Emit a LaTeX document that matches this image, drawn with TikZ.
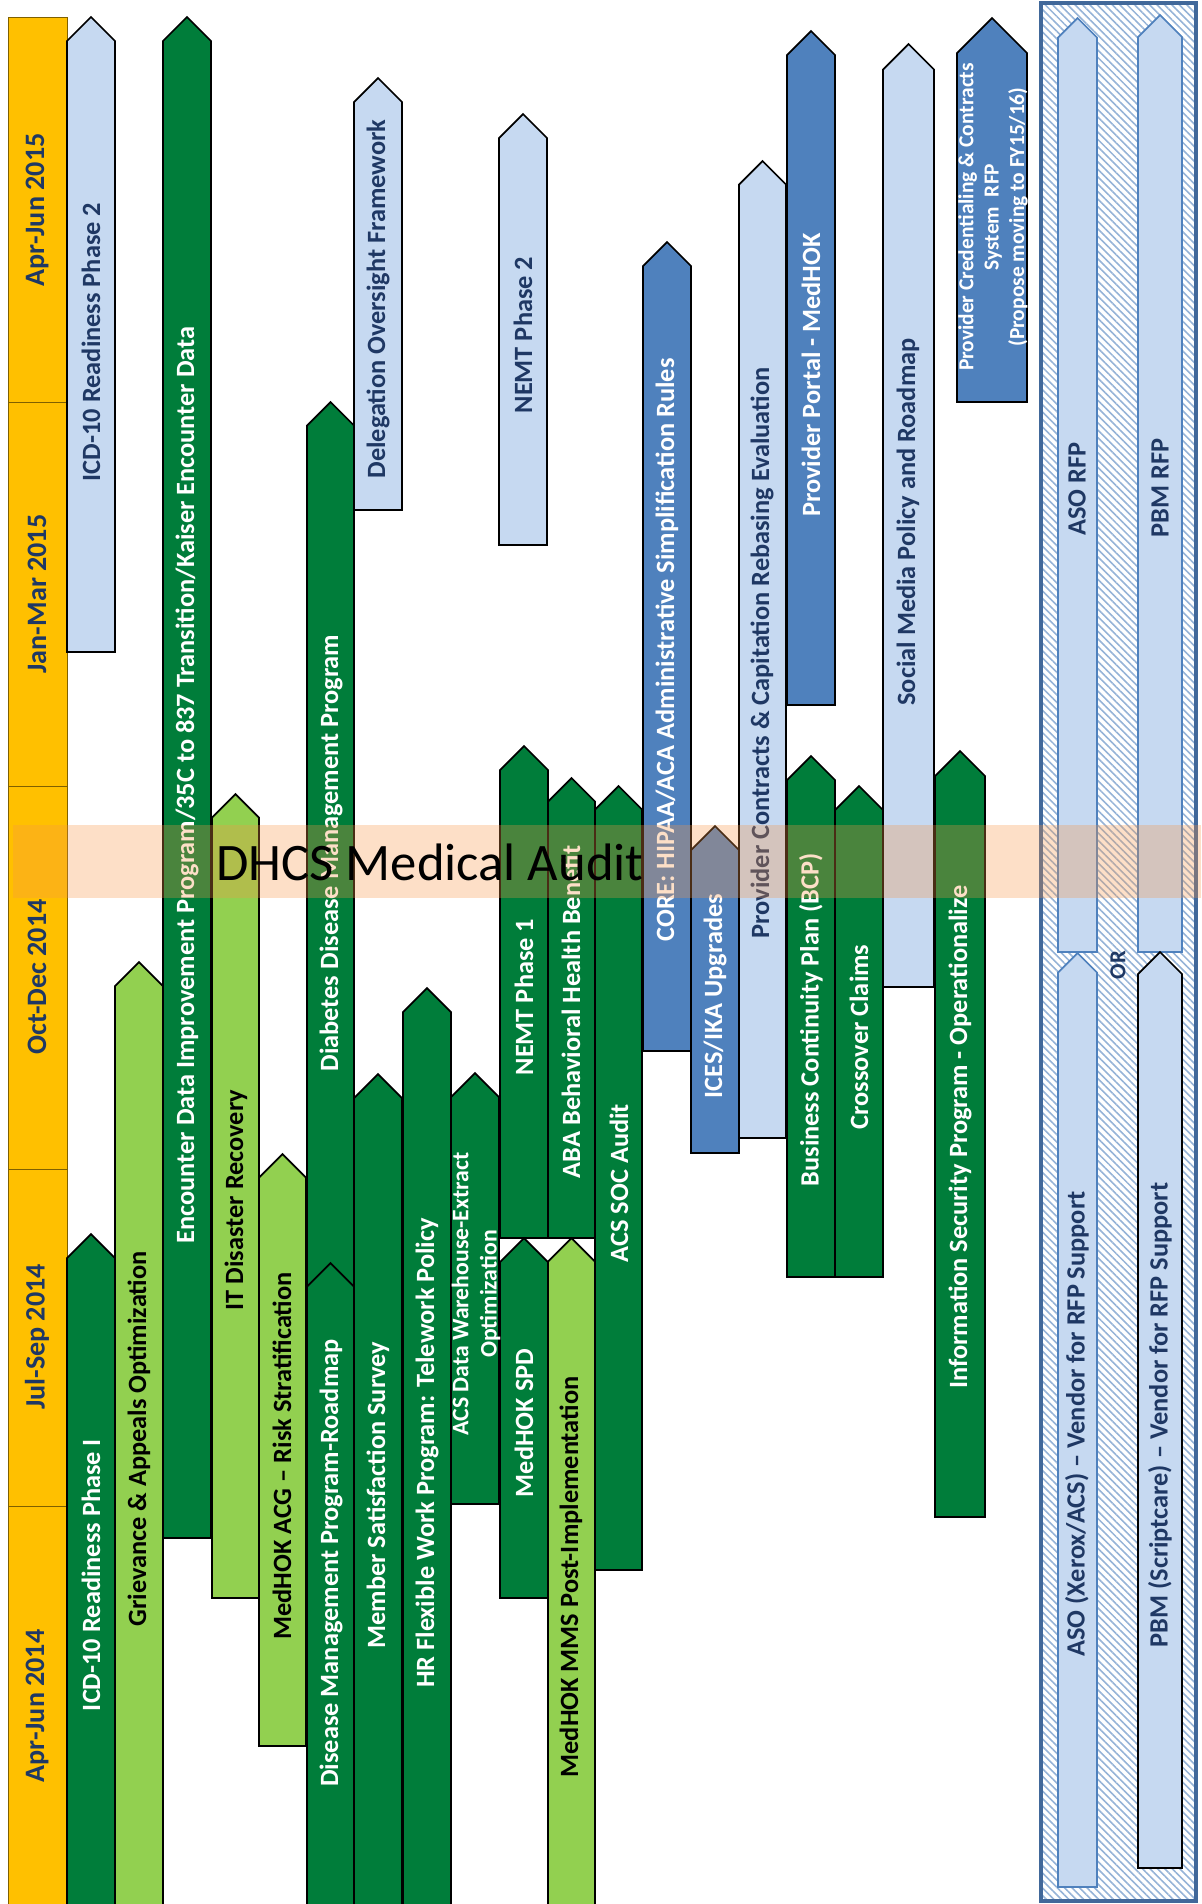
\documentclass[tikz,border=0pt]{standalone}
\usepackage{fontspec}
\setmainfont{Carlito}
\usetikzlibrary{patterns.meta}

\definecolor{tlorange}{HTML}{FFC000}
\definecolor{tlline}{HTML}{7F6000}
\definecolor{txtnavy}{HTML}{1F3864}
\definecolor{dkgreen}{HTML}{007D3A}
\definecolor{ltgreen}{HTML}{92D050}
\definecolor{ltblue}{HTML}{C6D9F1}
\definecolor{mdblue}{HTML}{4F81BD}
\definecolor{boxblue}{HTML}{41689A}
\definecolor{hatchblue}{HTML}{95B3D7}
\definecolor{auditorange}{HTML}{F79646}

\tikzset{
    darkbar/.style={draw=black, line width=1pt, fill=dkgreen},
    greenbar/.style={draw=black, line width=1pt, fill=ltgreen},
    palebar/.style={draw=black, line width=1pt, fill=ltblue},
    bluebar/.style={draw=black, line width=1pt, fill=mdblue},
    rfpbar/.style={draw=mdblue, line width=1pt, fill=ltblue},
    lbl/.style={rotate=90, inner sep=0pt, font=\fontsize{15}{18}\selectfont\bfseries},
    wlbl/.style={lbl, text=white},
    blbl/.style={lbl, text=black},
    nlbl/.style={lbl, text=txtnavy},
    qlbl/.style={rotate=90, text=txtnavy, font=\fontsize{16}{19}\selectfont\bfseries},
}

% bar with a pointed top: x left, x right, tip y, bottom y, style
\newcommand{\projbar}[5]{\draw[#5] (#1,#4) -- (#1,{#3+(#2-#1)/2}) -- ({(#1+#2)/2},#3) -- (#2,{#3+(#2-#1)/2}) -- (#2,#4) -- cycle;}

\begin{document}
\begin{tikzpicture}[x=0.02cm, y=-0.02cm]
    \useasboundingbox (0,0) rectangle (1201,1904);

    % quarters
    \draw[tlline, fill=tlorange] (8,17) rectangle (67,1910);
    \foreach \yy in {402,786,1169,1506}
        \draw[tlline] (8,\yy) -- (67,\yy);
    \node[qlbl] (qaprjun15) at (37,210) {Apr-Jun 2015};
    \node[qlbl] (qjanmar15) at (37,594) {Jan-Mar 2015};
    \node[qlbl] (qoctdec14) at (37,977) {Oct-Dec 2014};
    \node[qlbl] (qjulsep14) at (37,1337) {Jul-Sep 2014};
    \node[qlbl] (qaprjun14) at (37,1706) {Apr-Jun 2014};

    % projects
    \projbar{67}{115}{17}{652}{palebar}
    \projbar{67}{115}{1234}{1910}{darkbar}
    \projbar{115}{163}{962}{1910}{greenbar}
    \projbar{163}{211}{17}{1538}{darkbar}
    \projbar{212}{259}{794}{1598}{greenbar}
    \projbar{259}{306}{1154}{1746}{greenbar}
    \projbar{307}{354}{402}{1290}{darkbar}
    \projbar{307}{354}{1263}{1910}{darkbar}
    \projbar{354}{402}{78}{510}{palebar}
    \projbar{354}{402}{1074}{1910}{darkbar}
    \projbar{403}{451}{988}{1910}{darkbar}
    \projbar{451}{499}{1073}{1504}{darkbar}
    \projbar{499}{547}{114}{545}{palebar}
    \projbar{500}{548}{746}{1238}{darkbar}
    \projbar{500}{548}{1238}{1598}{darkbar}
    \projbar{548}{595}{778}{1238}{darkbar}
    \projbar{548}{595}{1238}{1910}{greenbar}
    \projbar{595}{642}{786}{1570}{darkbar}
    \projbar{643}{691}{242}{1051}{bluebar}
    \projbar{691}{739}{826}{1153}{bluebar}
    \projbar{739}{786}{161}{1138}{palebar}
    \projbar{787}{835}{31}{705}{bluebar}
    \projbar{787}{835}{756}{1277}{darkbar}
    \projbar{835}{883}{786}{1277}{darkbar}
    \projbar{883}{934}{44}{987}{palebar}
    \projbar{935}{985}{751}{1517}{darkbar}
    \projbar{957}{1027}{18}{402}{bluebar}

    \node[nlbl] (icdtwo) at (91,342) {ICD-10 Readiness Phase 2};
    \node[wlbl] (icdone) at (91,1575) {ICD-10 Readiness Phase I};
    \node[blbl] (grievance) at (139,1439) {Grievance \& Appeals Optimization};
    \node[wlbl] (encounter) at (187,785) {Encounter Data Improvement Program/35C to 837 Transition/Kaiser Encounter Data};
    \node[blbl] (disaster) at (236,1200) {IT Disaster Recovery};
    \node[blbl] (acg) at (282,1456) {MedHOK ACG -- Risk Stratification};
    \node[wlbl] (diabetes) at (331,853) {Diabetes Disease Management Program};
    \node[wlbl] (roadmap) at (331,1563) {Disease Management Program-Roadmap};
    \node[nlbl] (delegation) at (378,299) {Delegation Oversight Framework};
    \node[wlbl] (survey) at (378,1495) {Member Satisfaction Survey};
    \node[wlbl] (telework) at (427,1453) {HR Flexible Work Program: Telework Policy};
    \node[wlbl, align=center, font=\fontsize{13.5}{16}\selectfont\bfseries] (warehouse) at (476,1294) {ACS Data Warehouse-Extract\\Optimization};
    \node[nlbl] (nemttwo) at (523,335) {NEMT Phase 2};
    \node[wlbl] (nemtone) at (524,997) {NEMT Phase 1};
    \node[wlbl] (spd) at (524,1423) {MedHOK SPD};
    \node[wlbl] (aba) at (571,1012) {ABA Behavioral Health Benefit};
    \node[blbl] (mms) at (571,1577) {MedHOK MMS Post-Implementation};
    \node[wlbl] (socaudit) at (619,1183) {ACS SOC Audit};
    \node[wlbl] (core) at (667,650) {CORE: HIPAA/ACA Administrative Simplification Rules};
    \node[wlbl] (ices) at (715,996) {ICES/IKA Upgrades};
    \node[nlbl] (rebasing) at (762,653) {Provider Contracts \& Capitation Rebasing Evaluation};
    \node[wlbl] (portal) at (811,375) {Provider Portal - MedHOK};
    \node[wlbl] (bcp) at (811,1020) {Business Continuity Plan (BCP)};
    \node[wlbl] (crossover) at (859,1037) {Crossover Claims};
    \node[nlbl] (social) at (908,522) {Social Media Policy and Roadmap};
    \node[wlbl] (infosec) at (960,1137) {Information Security Program - Operationalize};
    \node[wlbl, align=center, font=\fontsize{12.2}{14.5}\selectfont\bfseries] (credentialing) at (993,217) {Provider Credentialing \& Contracts\\System~~RFP\\(Propose moving to FY15/16)};

    % RFP options
    \draw[boxblue, line width=2.5pt, pattern={Lines[angle=-45, distance=3pt, line width=0.9pt]}, pattern color=hatchblue] (1041,3) rectangle (1196,1901);
    \projbar{1058}{1097}{18}{952}{rfpbar}
    \projbar{1138}{1182}{15}{952}{rfpbar}
    \projbar{1058}{1097}{953}{1887}{rfpbar}
    \projbar{1138}{1182}{952}{1868}{palebar}
    \node[nlbl] (asorfp) at (1077,489) {ASO RFP};
    \node[nlbl] (pbmrfp) at (1160,488) {PBM RFP};
    \node[nlbl] (asovendor) at (1077,1424) {ASO (Xerox/ACS) -- Vendor for RFP Support};
    \node[nlbl] (pbmvendor) at (1160,1415) {PBM (Scriptcare) -- Vendor for RFP Support};
    \node[nlbl, font=\fontsize{13}{16}\selectfont\bfseries] (or) at (1118,965) {OR};

    % audit window
    \fill[auditorange, fill opacity=0.3] (13,825) rectangle (1201,898);
    \node[font=\fontsize{30}{36}\selectfont] (audit) at (430,862) {DHCS Medical Audit};
\end{tikzpicture}
\end{document}
